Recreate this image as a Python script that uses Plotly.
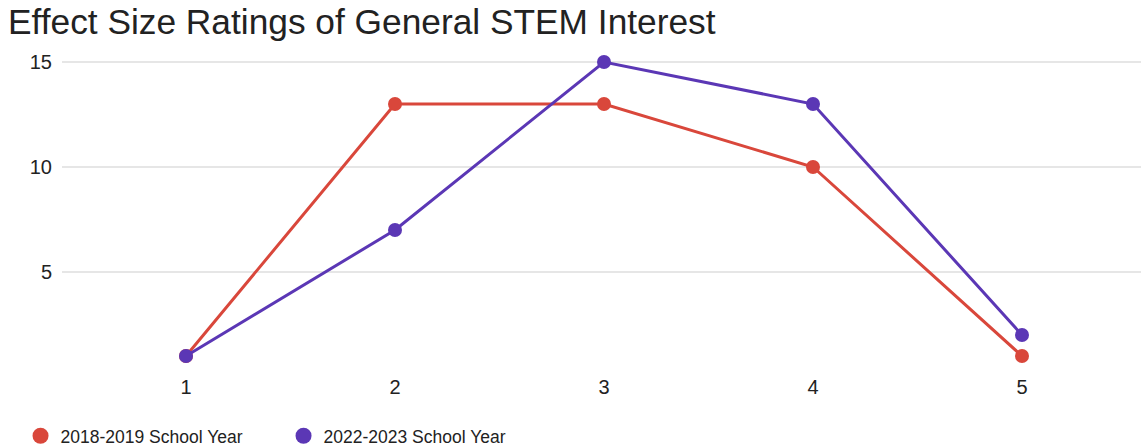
import plotly.graph_objects as go

ratings = [1, 2, 3, 4, 5]
series_names = ["2018-2019 School Year", "2022-2023 School Year"]
counts_2018 = [1, 13, 13, 10, 1]
counts_2022 = [1, 7, 15, 13, 2]
colors = ["#d9473b", "#5b37b5"]
ytick_vals = [5, 10, 15]

fig = go.Figure()
for name, vals, col in zip(series_names, [counts_2018, counts_2022], colors):
    fig.add_trace(go.Scatter(x=ratings, y=vals, mode="lines+markers", name=name,
                             line=dict(color=col, width=3), marker=dict(color=col, size=14),
                             showlegend=False))
for name, col in zip(series_names, colors):
    fig.add_trace(go.Scatter(x=[None], y=[None], mode="markers", name=name,
                             marker=dict(color=col, size=16)))

fig.update_layout(
    width=1141, height=448,
    margin=dict(l=62, r=0, t=50, b=71, autoexpand=False),
    paper_bgcolor="white", plot_bgcolor="white",
    font=dict(family="Liberation Sans, Arial, sans-serif", size=17, color="#222"),
    title=dict(text="Effect Size Ratings of General STEM Interest", x=0.007, xanchor="left",
               y=0.951, yanchor="middle", font=dict(size=35.3, color="#222")),
    xaxis=dict(range=[1 - 124/209, 5 + 119/209], tickvals=ratings, showgrid=False,
               zeroline=False, showline=False, ticks="", tickfont=dict(size=20),
               ticklabelstandoff=-4),
    yaxis=dict(range=[0, 15 + 12/21], tickvals=ytick_vals, showgrid=True, gridcolor="#e6e6e6",
               gridwidth=1.5, zeroline=False, showline=False, ticks="outside", ticklen=5,
               tickcolor="white", tickfont=dict(size=20)),
    legend=dict(orientation="h", xref="container", yref="container", x=0.018, xanchor="left",
                y=0.027, yanchor="middle", font=dict(size=17.5), itemwidth=30,
                entrywidth=218, entrywidthmode="pixels", tracegroupgap=0),
)

fig.write_html("out.html")
